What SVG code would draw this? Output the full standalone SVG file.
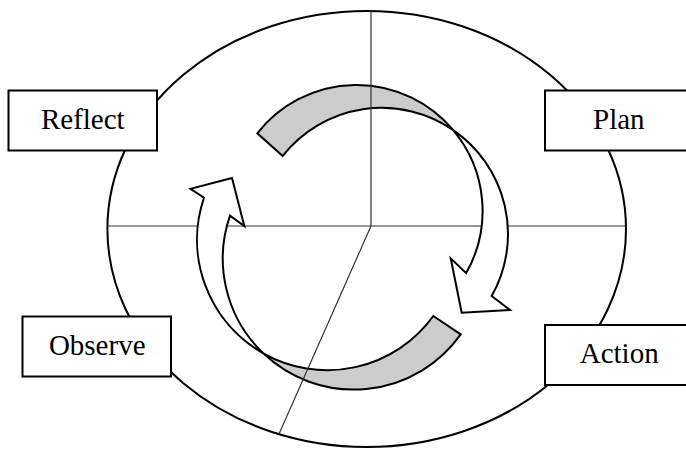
<svg xmlns="http://www.w3.org/2000/svg" width="686" height="449" viewBox="0 0 686 449">
  <style>
    .frame { fill: none; stroke: #000; stroke-width: 2; }
    .axis { stroke: #333; stroke-width: 1.2; fill: none; }
    .back { fill: #cccccc; stroke: #000; stroke-width: 2; stroke-linejoin: miter; }
    .front { fill: #ffffff; stroke: #000; stroke-width: 2; stroke-linejoin: miter; }
    .box { fill: #ffffff; stroke: #000; stroke-width: 2; }
    .label { font-family: "Liberation Serif", "Times New Roman", serif; font-size: 29px; fill: #000; text-anchor: middle; }
  </style>
  <rect width="686" height="449" fill="#ffffff"/>
  <g id="frame">
    <ellipse class="frame" cx="366.7" cy="229" rx="259.3" ry="218"/>
  </g>
  <g id="connectors">
    <path class="back" d="M 257.3 133.3 A 126 126 0 0 1 453.2 130.1 A 126 126 0 0 0 282.7 156 Z"/>
    <path class="back" d="M 263.3 353.3 A 130.5 130.5 0 0 0 433.3 316 L 460.7 334.3 A 131 131 0 0 1 263.3 353.3 Z"/>
    <g id="axes">
      <line class="axis" x1="371" y1="11" x2="371" y2="226"/>
      <line class="axis" x1="107" y1="226" x2="626" y2="226"/>
      <line class="axis" x1="371" y1="226" x2="279" y2="434" stroke="#000"/>
    </g>
    <path class="front" d="M 453.2 130.1 A 126 126 0 0 1 466.2 273.1 L 450.7 258.3 L 461.7 312.7 L 510 310 L 491.7 296 A 126 126 0 0 0 453.2 130.1 Z"/>
    <path class="front" d="M 263.3 353.3 A 130.5 130.5 0 0 1 204 197.7 L 190.5 188.8 L 232 178 L 244.3 226 L 230 215.7 A 131 131 0 0 0 263.3 353.3 Z"/>
  </g>
  <g id="node-reflect">
    <rect class="box" x="8.5" y="90.5" width="148.5" height="60"/>
    <text class="label" x="82.8" y="129">Reflect</text>
  </g>
  <g id="node-plan">
    <rect class="box" x="545" y="90.5" width="150" height="60"/>
    <text class="label" x="618.8" y="129">Plan</text>
  </g>
  <g id="node-observe">
    <rect class="box" x="22.5" y="316.5" width="148.5" height="60"/>
    <text class="label" x="97.2" y="354.7">Observe</text>
  </g>
  <g id="node-action">
    <rect class="box" x="545" y="325" width="150" height="60"/>
    <text class="label" x="619.2" y="363.3">Action</text>
  </g>
</svg>
